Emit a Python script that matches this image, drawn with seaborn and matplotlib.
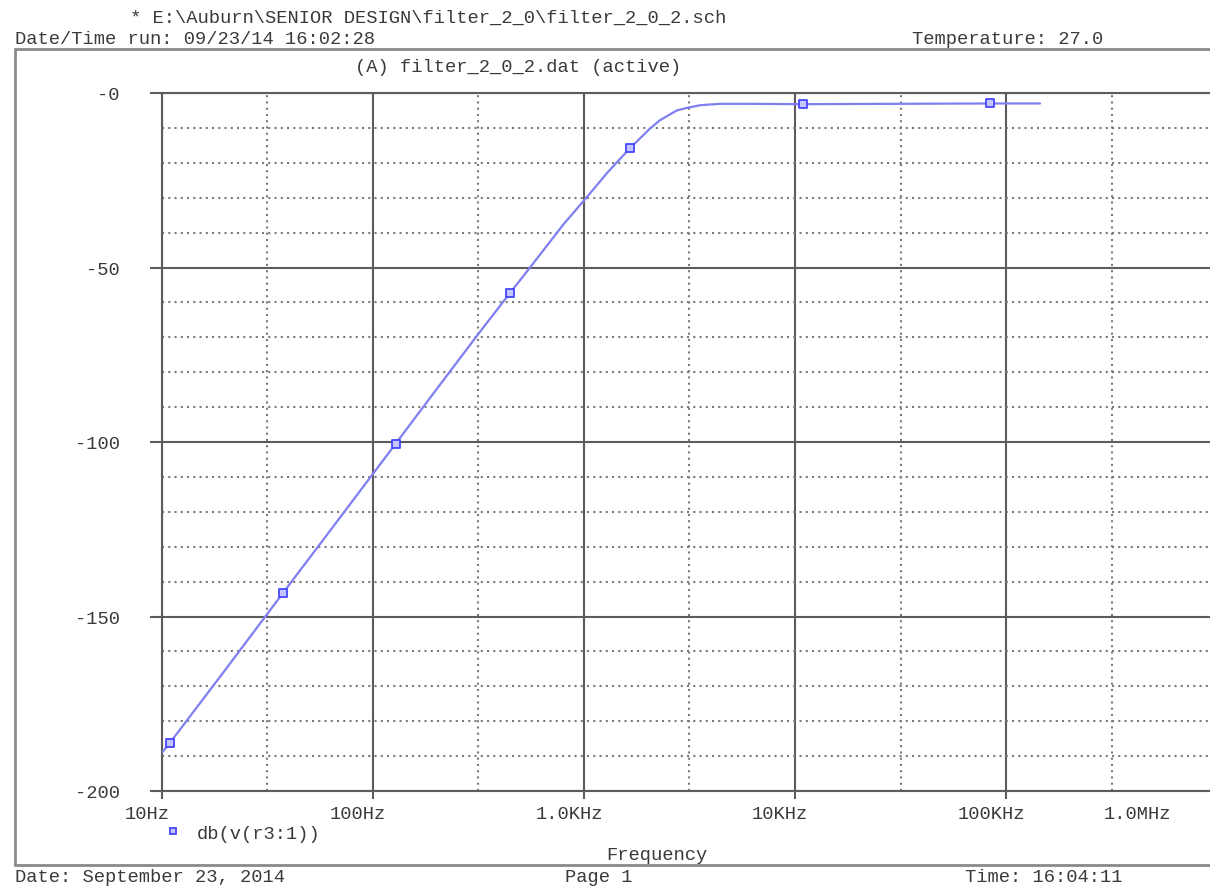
import numpy as np
import pandas as pd
import matplotlib
matplotlib.use("Agg")
import matplotlib.pyplot as plt
from matplotlib.lines import Line2D
from matplotlib.ticker import FixedLocator, NullFormatter
from matplotlib.transforms import ScaledTranslation
import seaborn as sns

# ---- data ----
freq_hz = [10, 10.9, 20, 31.6, 37.4, 63, 100, 128, 200, 316, 446, 555, 800,
           1033, 1300, 1652, 2055, 2291, 2754, 3013, 3548, 4416, 6000,
           10900, 30000, 84000, 145000]
gain_db = [-189, -186.2, -165.2, -149.2, -143.3, -125.2, -109.1, -100.5, -84.9,
           -69.0, -57.3, -50, -37.6, -29.8, -22.6, -15.8, -10.2, -7.8, -5.0,
           -4.4, -3.5, -3.1, -3.1, -3.2, -3.1, -3.0, -3.0]
marker_hz = [10.9, 37.4, 128, 446, 1652, 10900, 84000]
marker_db = [-186.2, -143.3, -100.5, -57.3, -15.8, -3.2, -2.9]

xtick_vals = [10, 100, 1000, 10000, 100000]
xtick_labels = ["10Hz", "100Hz", "1.0KHz", "10KHz", "100KHz"]
xminor_vals = [31.6, 316, 3162, 31623, 316228]
ytick_vals = [0, -50, -100, -150, -200]
ytick_labels = ["-0", "-50", "-100", "-150", "-200"]
yminor_vals = [v for v in range(-190, 0, 10) if v % 50 != 0]

series_name = "db(v(r3:1))"

df = pd.DataFrame({"f": freq_hz, "db": gain_db})
dm = pd.DataFrame({"f": marker_hz, "db": marker_db})

# ---- style ----
sns.set_style("white")
plt.rcParams["font.family"] = ["Liberation Mono", "DejaVu Sans Mono"]
FS = 13.5
TXT = "#3a3a3a"
GRID_DARK = "#5c5c5c"
GRID_DOT = "#7a7a7a"
LINE_C = "#7f7ff2"
MARK_C = "#4646ff"

W, H = 1210, 887
fig = plt.figure(figsize=(W / 100, H / 100), dpi=100)
fig.patch.set_facecolor("white")

ax_left, ax_right, ax_top, ax_bottom = 162, 1210, 94, 792
ax = fig.add_axes([ax_left / W, 1 - ax_bottom / H,
                   (ax_right - ax_left) / W, (ax_bottom - ax_top) / H])

sns.lineplot(data=df, x="f", y="db", ax=ax, color=LINE_C, linewidth=1.6,
             zorder=3, legend=False)
sns.scatterplot(data=dm, x="f", y="db", ax=ax, marker="s", s=40,
                facecolor="#c4c4ff", edgecolor=MARK_C, linewidth=1.3,
                zorder=4, legend=False)

ax.set_xscale("log")
decades = (ax_right - ax_left) / 211.0
ax.set_xlim(10, 10 ** (1 + decades))
ax.set_ylim(-200, 0)

ax.xaxis.set_major_locator(FixedLocator(xtick_vals))
ax.set_xticklabels(xtick_labels)
ax.xaxis.set_minor_locator(FixedLocator(xminor_vals))
ax.xaxis.set_minor_formatter(NullFormatter())
ax.yaxis.set_major_locator(FixedLocator(ytick_vals))
ax.set_yticklabels(ytick_labels)
ax.yaxis.set_minor_locator(FixedLocator(yminor_vals))
ax.yaxis.set_minor_formatter(NullFormatter())

ax.set_xlabel("")
ax.set_ylabel("")

ax.set_axisbelow(True)
ax.grid(which="major", color=GRID_DARK, linewidth=1.5, linestyle="-")
ax.grid(which="minor", color=GRID_DOT, linewidth=1.5, linestyle=(0, (1, 2)))

for side in ["left", "top", "bottom"]:
    ax.spines[side].set_visible(True)
    ax.spines[side].set_color(GRID_DARK)
    ax.spines[side].set_linewidth(1.5)
ax.spines["right"].set_visible(False)

ax.tick_params(axis="y", which="major", direction="out", length=8.6,
               width=1.5, color=GRID_DARK, pad=22, labelsize=FS,
               labelcolor=TXT, left=True)
ax.tick_params(axis="x", which="major", direction="out", length=5.8,
               width=1.5, color=GRID_DARK, pad=4.5, labelsize=FS,
               labelcolor=TXT, bottom=True)
ax.tick_params(which="minor", length=0)

offset = ScaledTranslation(-15 / 100, 0, fig.dpi_scale_trans)
for lab in ax.get_xticklabels():
    lab.set_transform(lab.get_transform() + offset)

# label for the decade beyond the visible area (same baseline as tick labels)
fig.text(1137 / W, 1 - 806 / H, "1.0MHz", ha="center", va="top",
         fontsize=FS, color=TXT)

# ---- legend ----
handle = Line2D([], [], marker="s", linestyle="none", markersize=5,
                markerfacecolor="#c4c4ff", markeredgecolor=MARK_C,
                markeredgewidth=1.3)
fig.legend([handle], [series_name], loc="center left",
           bbox_to_anchor=(165 / W, 1 - 834 / H), frameon=False,
           fontsize=FS, handlelength=0.8, handletextpad=0.9,
           labelcolor=TXT, borderaxespad=0, borderpad=0)

# ---- page texts ----
def ftxt(x, y, s, ha="left"):
    fig.text(x / W, 1 - y / H, s, ha=ha, va="center", fontsize=FS, color=TXT)

ftxt(130, 18, "* E:\\Auburn\\SENIOR DESIGN\\filter_2_0\\filter_2_0_2.sch")
ftxt(15, 40, "Date/Time run: 09/23/14 16:02:28")
ftxt(912, 40, "Temperature: 27.0")
ftxt(355, 68, "(A) filter_2_0_2.dat (active)")
ftxt(657, 856, "Frequency", ha="center")
ftxt(15, 878, "Date: September 23, 2014")
ftxt(565, 878, "Page 1")
ftxt(965, 878, "Time: 16:04:11")

# page frame
frame_kw = dict(color="#8a8a8a", linewidth=2, transform=fig.transFigure)
fig.add_artist(Line2D([15 / W, 1], [1 - 50 / H, 1 - 50 / H], **frame_kw))
fig.add_artist(Line2D([15 / W, 1], [1 - 866 / H, 1 - 866 / H], **frame_kw))
fig.add_artist(Line2D([15 / W, 15 / W], [1 - 50 / H, 1 - 866 / H], **frame_kw))

fig.savefig("out.png", dpi=100, facecolor="white")
